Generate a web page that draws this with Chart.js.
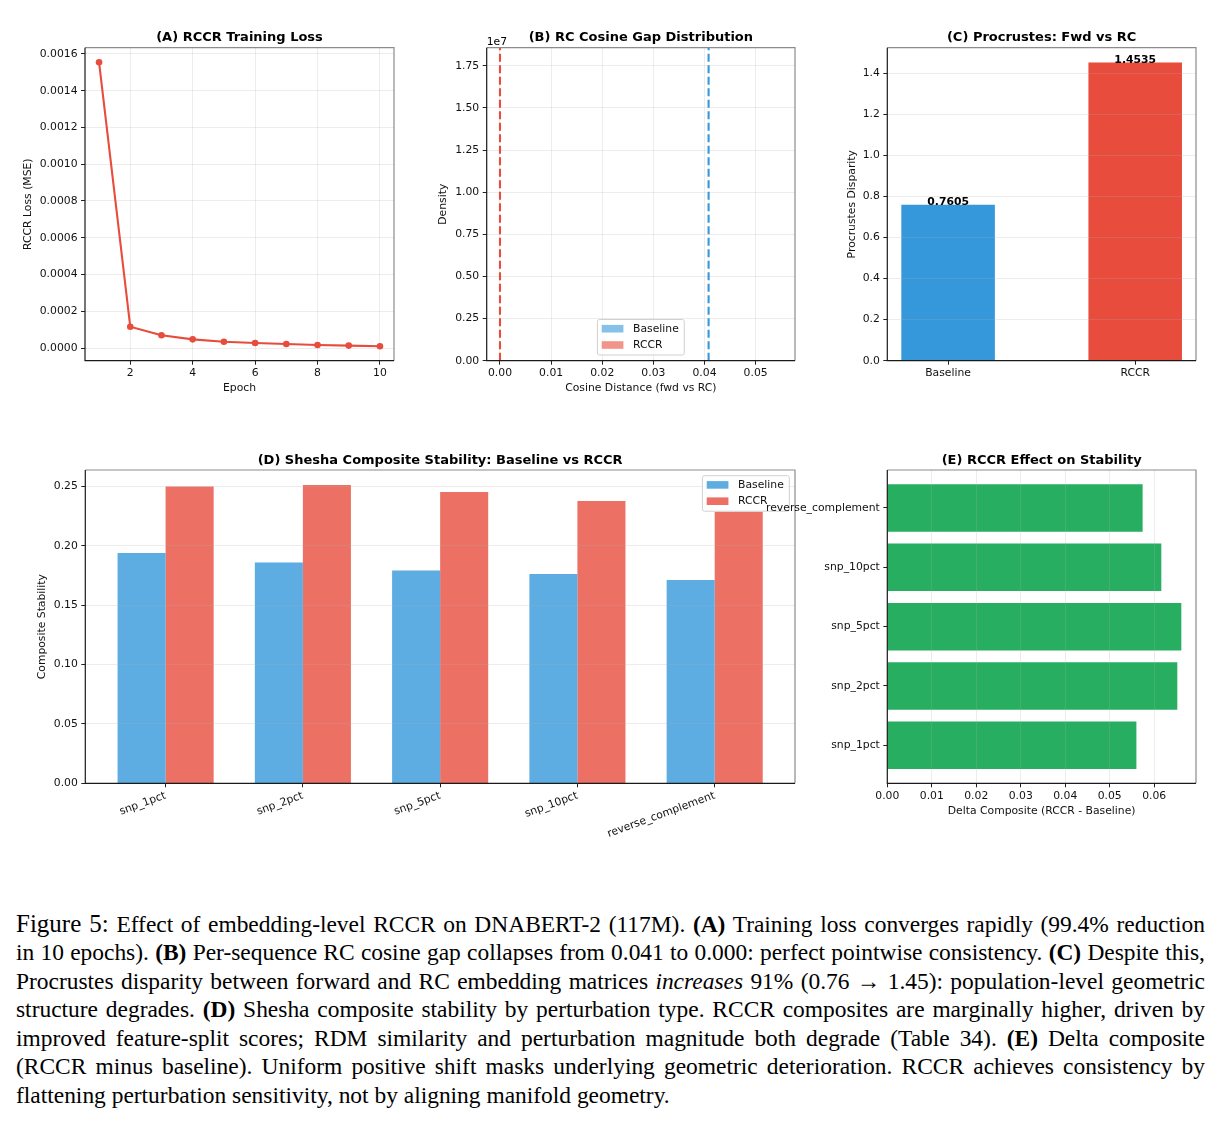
<!DOCTYPE html>
<html lang="en">
<head>
<meta charset="UTF-8">
<title>Figure 5 - RCCR on DNABERT-2</title>
<script src="https://cdn.jsdelivr.net/npm/chart.js@4.4.0/dist/chart.umd.min.js"></script>
<style>
  body { margin: 0; background: #fff; }
  #page { position: relative; width: 1222px; height: 1123px; overflow: hidden; }
  canvas { position: absolute; }
  #caption { position: absolute; left: 16px; top: 909.6px; width: 1189px; color: #000;
             font-family: "Liberation Serif", "Times New Roman", serif; font-size: 23.45px; }
  #caption div { height: 28.5px; line-height: 28.5px; white-space: nowrap; text-align: justify; text-align-last: justify; }
  #caption div.last { text-align-last: left; }
  #caption .fig { font-size: 25px; line-height: 0; }
</style>
</head>
<body>
<div id="page">
  <canvas id="chartA" width="420" height="380" style="left:0px;top:20px"></canvas>
  <canvas id="chartB" width="400" height="380" style="left:420px;top:20px"></canvas>
  <canvas id="chartC" width="402" height="380" style="left:820px;top:20px"></canvas>
  <canvas id="chartD" width="820" height="400" style="left:0px;top:445px"></canvas>
  <canvas id="chartE" width="482" height="385" style="left:740px;top:445px"></canvas>

  <div id="caption">
    <div><span class="fig">Figure 5:</span> Effect of embedding-level RCCR on DNABERT-2 (117M). <b>(A)</b> Training loss converges rapidly (99.4% reduction</div>
    <div>in 10 epochs). <b>(B)</b> Per-sequence RC cosine gap collapses from 0.041 to 0.000: perfect pointwise consistency. <b>(C)</b> Despite this,</div>
    <div>Procrustes disparity between forward and RC embedding matrices <i>increases</i> 91% (0.76 → 1.45): population-level geometric</div>
    <div>structure degrades. <b>(D)</b> Shesha composite stability by perturbation type. RCCR composites are marginally higher, driven by</div>
    <div>improved feature-split scores; RDM similarity and perturbation magnitude both degrade (Table 34). <b>(E)</b> Delta composite</div>
    <div>(RCCR minus baseline). Uniform positive shift masks underlying geometric deterioration. RCCR achieves consistency by</div>
    <div class="last">flattening perturbation sensitivity, not by aligning manifold geometry.</div>
  </div>
</div>

<script>
// ---- data ----
// (A) training loss per epoch
const epochs = [1, 2, 3, 4, 5, 6, 7, 8, 9, 10];
const rccrLoss = [0.001555, 0.000116, 0.000069, 0.000047, 0.000034, 0.000027, 0.000022, 0.000016, 0.000013, 0.0000093];

// (B) mean cosine distance fwd vs RC (dashed lines), density axis top (x1e7)
const gapModels = ['Baseline', 'RCCR'];
const gapMeans = [0.0408, 0.0];
const densityTop = 1.857e7;

// (C) procrustes disparity
const procModels = ['Baseline', 'RCCR'];
const procValues = [0.7605, 1.4535];

// (D) + (E) composite stability per perturbation
const perturbations = ['snp_1pct', 'snp_2pct', 'snp_5pct', 'snp_10pct', 'reverse_complement'];
const baselineComposite = [0.1939, 0.1860, 0.1793, 0.1762, 0.1712];
const rccrComposite = [0.2501, 0.2513, 0.2454, 0.2378, 0.2288];
const deltaComposite = [0.0560, 0.0652, 0.0661, 0.0616, 0.0574];

// tick positions
const lossTicks = [0, 0.0002, 0.0004, 0.0006, 0.0008, 0.0010, 0.0012, 0.0014, 0.0016];
const epochTicks = [2, 4, 6, 8, 10];
const gapTicks = [0, 0.01, 0.02, 0.03, 0.04, 0.05];
const densityTicks = [0, 0.25e7, 0.5e7, 0.75e7, 1e7, 1.25e7, 1.5e7, 1.75e7];
const procTicks = [0, 0.2, 0.4, 0.6, 0.8, 1.0, 1.2, 1.4];
const compTicks = [0, 0.05, 0.10, 0.15, 0.20, 0.25];
const deltaTicks = [0, 0.01, 0.02, 0.03, 0.04, 0.05, 0.06];

const RED = '#e74c3c', BLUE = '#3498db', GREEN = '#27ae60';
const FONT = '"DejaVu Sans", sans-serif';

Chart.defaults.font.family = FONT;
Chart.defaults.font.size = 10.8;
Chart.defaults.color = '#111';
Chart.defaults.animation = false;
Chart.defaults.responsive = false;
Chart.defaults.plugins.legend.display = false;
Chart.defaults.plugins.tooltip.enabled = false;

// matplotlib-ish legend box
function drawLegend(ctx, a, lg) {
  ctx.font = '10.8px ' + FONT;
  const tw = Math.max(...lg.items.map(it => ctx.measureText(it.label).width));
  const w = 4.3 + 21.7 + 9.6 + tw + 5.5, h = 35.5;
  let x, y;
  if (lg.loc === 'lower center') { x = (a.left + a.right) / 2 - w / 2; y = a.bottom - 5.7 - h; }
  else { x = a.right - 5.7 - w; y = a.top + 5.7; }
  ctx.beginPath();
  ctx.roundRect(x, y, w, h, 2);
  ctx.fillStyle = 'rgba(255,255,255,0.8)';
  ctx.fill();
  ctx.strokeStyle = '#d0d0d0'; ctx.lineWidth = 1;
  ctx.stroke();
  lg.items.forEach((it, i) => {
    const ry = y + 9.2 + i * 16.3;
    ctx.fillStyle = it.color;
    ctx.fillRect(x + 4.3, ry - 3.8, 21.7, 7.6);
    ctx.fillStyle = '#111';
    ctx.textAlign = 'left'; ctx.textBaseline = 'middle';
    ctx.fillText(it.label, x + 35.6, ry);
  });
}

// title, spines, offset text, bar value labels, legend
const panelDecor = {
  id: 'panelDecor',
  afterDraw(chart, args, o) {
    if (!o.title) return;
    const { ctx, chartArea: a } = chart;
    ctx.save();
    ctx.lineWidth = 1.2;
    ctx.strokeStyle = '#8c8c8c';  // top + right spines are lighter
    ctx.beginPath(); ctx.moveTo(a.left, a.top); ctx.lineTo(a.right, a.top); ctx.lineTo(a.right, a.bottom); ctx.stroke();
    ctx.strokeStyle = '#1a1a1a';
    ctx.beginPath(); ctx.moveTo(a.left, a.top); ctx.lineTo(a.left, a.bottom); ctx.lineTo(a.right, a.bottom); ctx.stroke();

    ctx.fillStyle = '#000';
    ctx.font = 'bold 13px ' + FONT;
    ctx.textAlign = 'center'; ctx.textBaseline = 'alphabetic';
    ctx.fillText(o.title, (a.left + a.right) / 2, a.top - o.titleGap);

    if (o.offsetText) {
      ctx.font = '10.8px ' + FONT; ctx.textAlign = 'left';
      ctx.fillText(o.offsetText, a.left, a.top - 2.7);
    }
    if (o.barLabels) {
      ctx.font = 'bold 10.8px ' + FONT; ctx.textAlign = 'center';
      const ds = chart.data.datasets[0];
      chart.getDatasetMeta(0).data.forEach((bar, i) => {
        ctx.fillText(ds.data[i].y.toFixed(4), bar.x, bar.y + 0.5);
      });
    }
    if (o.legend) drawLegend(ctx, a, o.legend);
    ctx.restore();
  }
};
Chart.register(panelDecor);

// linear axis with fixed ticks and a fixed box size so the plot area lands where it should
function axis(o) {
  return {
    type: 'linear', min: o.min, max: o.max, offset: false,
    afterBuildTicks: ax => { ax.ticks = o.ticks.map(v => ({ value: v })); },
    afterFit: ax => {
      if (o.width !== undefined) ax.width = o.width;
      if (o.height !== undefined) ax.height = o.height;
    },
    grid: { display: true, drawOnChartArea: !!o.grid, color: 'rgba(176,176,176,0.3)', lineWidth: 0.8,
            tickColor: '#222', tickLength: 4, tickWidth: 1, offset: false, z: o.gridZ || 0 },
    border: { display: false },
    ticks: { autoSkip: false, padding: o.pad !== undefined ? o.pad : 3.5, callback: o.fmt,
             minRotation: o.rot || 0, maxRotation: o.rot || 0 },
    title: o.title ? { display: true, text: o.title, padding: o.titlePad } : { display: false }
  };
}

// (A) RCCR training loss
new Chart(document.getElementById('chartA'), {
  type: 'line',
  data: {
    datasets: [{
      label: 'RCCR loss',
      data: epochs.map((e, i) => ({ x: e, y: rccrLoss[i] })),
      borderColor: RED, backgroundColor: RED, borderWidth: 2.1,
      pointRadius: 3.3, pointBorderWidth: 0, tension: 0
    }]
  },
  options: {
    layout: { padding: { left: 0, top: 27.7, right: 26, bottom: 0 } },
    plugins: { panelDecor: { title: '(A) RCCR Training Loss', titleGap: 7 } },
    scales: {
      x: axis({ min: 0.55, max: 10.45, ticks: epochTicks, fmt: v => String(v), height: 39.3, grid: true, pad: 2,
                title: 'Epoch', titlePad: { top: 0, bottom: 5.5 } }),
      y: axis({ min: -0.0000691, max: 0.001634, ticks: lossTicks, fmt: v => v.toFixed(4), width: 85, grid: true,
                title: 'RCCR Loss (MSE)', titlePad: { top: 21.5, bottom: 0 } })
    }
  }
});

// (B) RC cosine gap - only the mean lines are visible, histograms collapse to spikes
new Chart(document.getElementById('chartB'), {
  type: 'scatter',
  data: {
    datasets: gapModels.map((m, i) => ({
      label: m,
      data: [{ x: gapMeans[i], y: 0 }, { x: gapMeans[i], y: densityTop }],
      showLine: true, borderColor: i === 0 ? BLUE : RED, borderWidth: 2.1,
      borderDash: [8, 3.5], pointRadius: 0
    }))
  },
  options: {
    layout: { padding: { left: 0, top: 27.7, right: 25, bottom: 0 } },
    plugins: {
      panelDecor: {
        title: '(B) RC Cosine Gap Distribution', titleGap: 7, offsetText: '1e7',
        legend: { loc: 'lower center', items: [
          { label: gapModels[0], color: 'rgba(52,152,219,0.6)' },
          { label: gapModels[1], color: 'rgba(231,76,60,0.6)' }] }
      }
    },
    scales: {
      x: axis({ min: -0.0026, max: 0.0577, ticks: gapTicks, fmt: v => v.toFixed(2), height: 39.3, grid: true, pad: 2,
                title: 'Cosine Distance (fwd vs RC)', titlePad: { top: 0, bottom: 5.2 } }),
      y: axis({ min: 0, max: densityTop, ticks: densityTicks, fmt: v => (v / 1e7).toFixed(2), width: 66.7, grid: true,
                title: 'Density', titlePad: { top: 16.8, bottom: 0 } })
    }
  }
});

// (C) Procrustes disparity
new Chart(document.getElementById('chartC'), {
  type: 'bar',
  data: {
    datasets: [{
      label: 'Procrustes',
      data: procValues.map((v, i) => ({ x: i, y: v })),
      backgroundColor: [BLUE, RED], borderWidth: 0,
      barPercentage: 0.5, categoryPercentage: 1
    }]
  },
  options: {
    layout: { padding: { left: 0, top: 27.7, right: 26, bottom: 0 } },
    plugins: { panelDecor: { title: '(C) Procrustes: Fwd vs RC', titleGap: 7, barLabels: true } },
    scales: {
      x: axis({ min: -0.325, max: 1.325, ticks: [0, 1], fmt: v => procModels[v], height: 39.3, pad: 2 }),
      y: axis({ min: 0, max: 1.526, ticks: procTicks, fmt: v => v.toFixed(1), width: 67.3, grid: true, gridZ: 1,
                title: 'Procrustes Disparity', titlePad: { top: 25.8, bottom: 0 } })
    }
  }
});

// (D) composite stability, grouped bars
new Chart(document.getElementById('chartD'), {
  type: 'bar',
  data: {
    datasets: [
      { label: 'Baseline', data: baselineComposite.map((v, i) => ({ x: i, y: v })),
        backgroundColor: 'rgba(52,152,219,0.8)', borderWidth: 0, barPercentage: 1, categoryPercentage: 0.7 },
      { label: 'RCCR', data: rccrComposite.map((v, i) => ({ x: i, y: v })),
        backgroundColor: 'rgba(231,76,60,0.8)', borderWidth: 0, barPercentage: 1, categoryPercentage: 0.7 }
    ]
  },
  options: {
    layout: { padding: { left: 0, top: 25, right: 25, bottom: 0 } },
    plugins: {
      panelDecor: {
        title: '(D) Shesha Composite Stability: Baseline vs RCCR', titleGap: 6,
        legend: { loc: 'upper right', items: [
          { label: 'Baseline', color: 'rgba(52,152,219,0.8)' },
          { label: 'RCCR', color: 'rgba(231,76,60,0.8)' }] }
      }
    },
    scales: {
      x: axis({ min: -0.585, max: 4.585, ticks: [0, 1, 2, 3, 4], fmt: v => perturbations[v], height: 61.7, rot: 20, pad: 2 }),
      y: axis({ min: 0, max: 0.2639, ticks: compTicks, fmt: v => v.toFixed(2), width: 85.3, grid: true, gridZ: 1,
                title: 'Composite Stability', titlePad: { top: 35.8, bottom: 0 } })
    }
  }
});

// (E) delta composite, horizontal bars
new Chart(document.getElementById('chartE'), {
  type: 'bar',
  data: {
    datasets: [{
      label: 'Delta',
      data: deltaComposite.map((v, i) => ({ x: v, y: i })),
      backgroundColor: GREEN, borderWidth: 0, barPercentage: 0.8, categoryPercentage: 1
    }]
  },
  options: {
    indexAxis: 'y',
    layout: { padding: { left: 0, top: 25, right: 26, bottom: 0 } },
    plugins: { panelDecor: { title: '(E) RCCR Effect on Stability', titleGap: 6 } },
    scales: {
      x: axis({ min: 0, max: 0.0694, ticks: deltaTicks, fmt: v => v.toFixed(2), height: 46.7, grid: true, gridZ: 1, pad: 2,
                title: 'Delta Composite (RCCR - Baseline)', titlePad: { top: 0, bottom: 12.5 } }),
      y: axis({ min: -0.64, max: 4.64, ticks: [0, 1, 2, 3, 4], fmt: v => perturbations[v], width: 147.3 })
    }
  }
});
</script>
</body>
</html>
